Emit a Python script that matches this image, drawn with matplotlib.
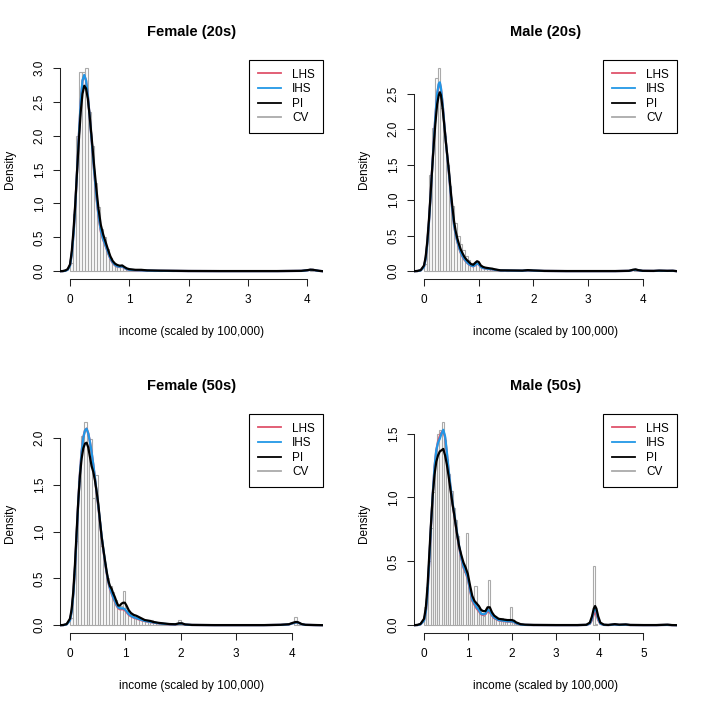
import matplotlib
matplotlib.use("Agg")
import matplotlib.pyplot as plt
from matplotlib.lines import Line2D

plt.rcParams['font.family'] = ['Liberation Sans', 'DejaVu Sans']

# ---------------- data ----------------
titles = ["Female (20s)", "Male (20s)", "Female (50s)", "Male (50s)"]
legend_labels = ["LHS", "IHS", "PI", "CV"]
bin_width = 0.05

# Panel 1: Female (20s)
p1_hist_left = [0.00, 0.05, 0.10, 0.15, 0.20, 0.25, 0.30, 0.35, 0.40, 0.45, 0.50, 0.55, 0.60,
                0.65, 0.70, 0.75, 0.80, 0.85, 0.90, 0.95, 1.00, 1.05, 1.10, 1.15, 1.20, 1.25,
                1.40, 1.50, 1.70, 4.05]
p1_hist_h = [0.12, 0.85, 2.0, 2.95, 2.95, 3.0, 2.35, 1.85, 1.3, 0.95, 0.62, 0.5, 0.33,
             0.2, 0.12, 0.09, 0.07, 0.08, 0.04, 0.03, 0.02, 0.025, 0.01, 0.015, 0.01, 0.01,
             0.005, 0.01, 0.005, 0.03]
p1_x = [-0.17, -0.12, -0.08, -0.04, 0.0, 0.03, 0.06, 0.09, 0.12, 0.15, 0.18, 0.21, 0.24, 0.27,
        0.30, 0.33, 0.36, 0.40, 0.44, 0.48, 0.52, 0.56, 0.60, 0.64, 0.68, 0.72, 0.76, 0.80,
        0.84, 0.88, 0.92, 0.96, 1.0, 1.1, 1.2, 1.3, 1.5, 1.7, 2.0, 2.5, 3.0, 3.5, 3.9, 4.0,
        4.05, 4.1, 4.15, 4.2, 4.26]
p1_pi = [0.0, 0.002, 0.01, 0.03, 0.1, 0.3, 0.62, 1.02, 1.5, 1.95, 2.35, 2.62, 2.74, 2.7,
         2.55, 2.3, 2.02, 1.62, 1.25, 0.92, 0.68, 0.54, 0.43, 0.32, 0.22, 0.15, 0.11, 0.09,
         0.08, 0.085, 0.06, 0.04, 0.03, 0.02, 0.02, 0.012, 0.008, 0.006, 0.003, 0.002, 0.002,
         0.002, 0.005, 0.015, 0.022, 0.02, 0.012, 0.005, 0.0]
p1_ihs = [0.0, 0.001, 0.005, 0.02, 0.08, 0.25, 0.55, 0.98, 1.5, 2.02, 2.5, 2.82, 2.9, 2.82,
          2.6, 2.3, 1.98, 1.55, 1.15, 0.83, 0.6, 0.47, 0.38, 0.28, 0.19, 0.13, 0.09, 0.07,
          0.065, 0.07, 0.05, 0.03, 0.02, 0.015, 0.012, 0.008, 0.005, 0.004, 0.002, 0.001, 0.001,
          0.001, 0.004, 0.012, 0.02, 0.018, 0.01, 0.004, 0.0]
p1_lhs = [0.0, 0.001, 0.006, 0.022, 0.085, 0.26, 0.56, 0.99, 1.5, 2.02, 2.49, 2.81, 2.89, 2.82,
          2.6, 2.3, 1.98, 1.54, 1.13, 0.81, 0.58, 0.46, 0.37, 0.27, 0.18, 0.12, 0.085, 0.065,
          0.06, 0.065, 0.045, 0.028, 0.018, 0.014, 0.011, 0.007, 0.005, 0.004, 0.002, 0.001,
          0.001, 0.001, 0.004, 0.012, 0.02, 0.018, 0.01, 0.004, 0.0]

# Panel 2: Male (20s)
p2_hist_left = [0.00, 0.05, 0.10, 0.15, 0.20, 0.25, 0.30, 0.35, 0.40, 0.45, 0.50, 0.55, 0.60,
                0.65, 0.70, 0.75, 0.80, 0.85, 0.90, 0.95, 1.00, 1.05, 1.10, 1.15, 1.20, 1.25,
                1.30, 1.35, 1.40, 1.50, 1.85, 1.90, 3.85, 4.30, 4.50]
p2_hist_h = [0.1, 0.62, 1.35, 2.02, 2.72, 2.86, 2.3, 1.9, 1.5, 1.2, 0.92, 0.68, 0.5,
             0.38, 0.3, 0.22, 0.16, 0.12, 0.09, 0.12, 0.08, 0.06, 0.05, 0.04, 0.05, 0.03,
             0.02, 0.015, 0.01, 0.01, 0.015, 0.015, 0.03, 0.01, 0.005]
p2_x = [-0.18, -0.12, -0.06, 0.0, 0.03, 0.06, 0.09, 0.12, 0.15, 0.18, 0.21, 0.24, 0.27, 0.29,
        0.31, 0.34, 0.37, 0.40, 0.43, 0.46, 0.49, 0.52, 0.55, 0.58, 0.61, 0.64, 0.67, 0.70,
        0.74, 0.78, 0.82, 0.86, 0.90, 0.94, 0.97, 1.0, 1.04, 1.08, 1.12, 1.16, 1.2, 1.25, 1.3,
        1.4, 1.6, 1.8, 1.9, 2.0, 2.2, 2.6, 3.0, 3.5, 3.75, 3.82, 3.87, 3.92, 4.0, 4.2, 4.3,
        4.45, 4.55, 4.63]
p2_pi = [0.0, 0.003, 0.015, 0.08, 0.2, 0.42, 0.72, 1.08, 1.45, 1.8, 2.1, 2.35, 2.48, 2.52,
         2.48, 2.3, 2.06, 1.82, 1.6, 1.38, 1.12, 0.9, 0.7, 0.56, 0.46, 0.38, 0.31, 0.26,
         0.2, 0.16, 0.13, 0.1, 0.09, 0.12, 0.14, 0.13, 0.08, 0.06, 0.05, 0.045, 0.04, 0.035,
         0.025, 0.012, 0.01, 0.008, 0.015, 0.01, 0.004, 0.002, 0.002, 0.002, 0.005, 0.02,
         0.025, 0.015, 0.005, 0.004, 0.008, 0.005, 0.006, 0.0]
p2_ihs = [0.0, 0.002, 0.01, 0.06, 0.17, 0.38, 0.68, 1.05, 1.45, 1.85, 2.2, 2.5, 2.64, 2.66,
          2.58, 2.36, 2.08, 1.82, 1.58, 1.35, 1.08, 0.85, 0.65, 0.52, 0.42, 0.34, 0.27, 0.22,
          0.17, 0.13, 0.1, 0.08, 0.07, 0.09, 0.11, 0.1, 0.06, 0.045, 0.04, 0.035, 0.03, 0.028,
          0.02, 0.01, 0.008, 0.006, 0.012, 0.008, 0.003, 0.001, 0.001, 0.001, 0.004, 0.016,
          0.02, 0.012, 0.004, 0.003, 0.006, 0.004, 0.005, 0.0]
p2_lhs = [0.0, 0.002, 0.011, 0.062, 0.175, 0.39, 0.69, 1.06, 1.46, 1.85, 2.2, 2.49, 2.63, 2.65,
          2.57, 2.36, 2.08, 1.82, 1.58, 1.34, 1.07, 0.84, 0.64, 0.51, 0.41, 0.33, 0.26, 0.21,
          0.16, 0.125, 0.095, 0.077, 0.067, 0.085, 0.105, 0.095, 0.057, 0.043, 0.038, 0.034,
          0.029, 0.027, 0.019, 0.009, 0.007, 0.005, 0.011, 0.007, 0.003, 0.001, 0.001, 0.001,
          0.004, 0.015, 0.019, 0.011, 0.004, 0.003, 0.006, 0.004, 0.005, 0.0]

# Panel 3: Female (50s)
p3_hist_left = [0.00, 0.05, 0.10, 0.15, 0.20, 0.25, 0.30, 0.35, 0.40, 0.45, 0.50, 0.55, 0.60,
                0.65, 0.70, 0.75, 0.80, 0.85, 0.90, 0.95, 1.00, 1.05, 1.10, 1.15, 1.20, 1.25,
                1.30, 1.35, 1.40, 1.45, 1.50, 1.55, 1.60, 1.65, 1.70, 1.75, 1.80, 1.85, 1.90,
                1.95, 2.00, 3.80, 4.05, 4.10, 4.40]
p3_hist_h = [0.08, 0.55, 0.9, 1.54, 2.02, 2.17, 2.0, 1.99, 1.36, 1.6, 1.1, 0.85, 0.65,
             0.5, 0.42, 0.35, 0.27, 0.2, 0.2, 0.37, 0.18, 0.12, 0.11, 0.09, 0.08, 0.08,
             0.05, 0.05, 0.04, 0.06, 0.03, 0.02, 0.02, 0.015, 0.015, 0.01, 0.01, 0.005, 0.01,
             0.05, 0.01, 0.01, 0.09, 0.02, 0.005]
p3_x = [-0.18, -0.12, -0.06, 0.0, 0.03, 0.06, 0.09, 0.12, 0.15, 0.18, 0.21, 0.24, 0.27, 0.30,
        0.33, 0.36, 0.39, 0.42, 0.45, 0.48, 0.51, 0.54, 0.57, 0.60, 0.63, 0.66, 0.69, 0.72,
        0.75, 0.78, 0.81, 0.84, 0.87, 0.90, 0.93, 0.96, 0.99, 1.02, 1.06, 1.10, 1.15, 1.2,
        1.25, 1.3, 1.35, 1.4, 1.45, 1.5, 1.6, 1.7, 1.8, 1.9, 1.97, 2.02, 2.08, 2.2, 2.6, 3.0,
        3.5, 3.8, 3.95, 4.02, 4.08, 4.12, 4.18, 4.25, 4.4, 4.57]
p3_pi = [0.0, 0.002, 0.012, 0.07, 0.17, 0.36, 0.65, 1.0, 1.33, 1.6, 1.78, 1.89, 1.94, 1.95,
         1.9, 1.8, 1.7, 1.64, 1.55, 1.43, 1.3, 1.12, 0.95, 0.82, 0.7, 0.58, 0.48, 0.42,
         0.39, 0.34, 0.3, 0.25, 0.21, 0.21, 0.23, 0.24, 0.24, 0.21, 0.16, 0.13, 0.11, 0.1,
         0.085, 0.07, 0.055, 0.05, 0.045, 0.035, 0.025, 0.018, 0.012, 0.01, 0.02, 0.02, 0.008,
         0.003, 0.001, 0.001, 0.001, 0.004, 0.01, 0.025, 0.035, 0.03, 0.012, 0.004, 0.002, 0.0]
p3_ihs = [0.0, 0.001, 0.008, 0.05, 0.14, 0.32, 0.6, 0.95, 1.32, 1.62, 1.85, 2.0, 2.08, 2.1,
          2.05, 1.96, 1.85, 1.72, 1.58, 1.43, 1.28, 1.12, 0.96, 0.82, 0.69, 0.57, 0.47, 0.4,
          0.35, 0.3, 0.26, 0.22, 0.19, 0.18, 0.18, 0.18, 0.17, 0.15, 0.12, 0.1, 0.085, 0.075,
          0.065, 0.055, 0.045, 0.04, 0.035, 0.03, 0.02, 0.014, 0.01, 0.008, 0.016, 0.016, 0.006,
          0.002, 0.0005, 0.0005, 0.0005, 0.003, 0.008, 0.02, 0.03, 0.026, 0.01, 0.003, 0.001, 0.0]
p3_lhs = [0.0, 0.001, 0.009, 0.052, 0.145, 0.33, 0.61, 0.96, 1.33, 1.63, 1.86, 2.01, 2.08, 2.1,
          2.05, 1.96, 1.85, 1.72, 1.57, 1.42, 1.27, 1.11, 0.95, 0.81, 0.68, 0.56, 0.46, 0.39,
          0.34, 0.29, 0.25, 0.21, 0.18, 0.17, 0.17, 0.17, 0.16, 0.14, 0.11, 0.095, 0.08, 0.07,
          0.06, 0.05, 0.043, 0.038, 0.033, 0.028, 0.019, 0.013, 0.009, 0.007, 0.015, 0.015,
          0.005, 0.002, 0.0005, 0.0005, 0.0005, 0.003, 0.008, 0.02, 0.03, 0.026, 0.01, 0.003,
          0.001, 0.0]

# Panel 4: Male (50s)
p4_hist_left = [0.00, 0.05, 0.10, 0.15, 0.20, 0.25, 0.30, 0.35, 0.40, 0.45, 0.50, 0.55, 0.60,
                0.65, 0.70, 0.75, 0.80, 0.85, 0.90, 0.95, 1.00, 1.05, 1.10, 1.15, 1.20, 1.25,
                1.30, 1.35, 1.40, 1.45, 1.50, 1.55, 1.60, 1.65, 1.70, 1.75, 1.80, 1.85, 1.90,
                1.95, 2.00, 2.05, 2.10, 2.15, 2.20, 2.35, 2.45, 3.85, 3.90, 4.35, 4.60, 5.55]
p4_hist_h = [0.14, 0.3, 0.5, 0.76, 1.04, 1.37, 1.5, 1.53, 1.59, 1.45, 1.3, 1.18, 1.05,
             0.92, 0.82, 0.7, 0.55, 0.5, 0.42, 0.72, 0.3, 0.22, 0.18, 0.31, 0.15, 0.13,
             0.08, 0.07, 0.1, 0.35, 0.1, 0.08, 0.06, 0.05, 0.05, 0.06, 0.04, 0.03, 0.03,
             0.14, 0.03, 0.02, 0.01, 0.01, 0.005, 0.005, 0.005, 0.46, 0.01, 0.01, 0.01, 0.005]
p4_x = [-0.23, -0.15, -0.08, 0.0, 0.04, 0.08, 0.12, 0.16, 0.2, 0.24, 0.28, 0.32, 0.36, 0.40,
        0.44, 0.48, 0.52, 0.56, 0.60, 0.65, 0.70, 0.75, 0.80, 0.85, 0.90, 0.95, 1.0, 1.05,
        1.1, 1.15, 1.2, 1.25, 1.3, 1.35, 1.4, 1.45, 1.5, 1.55, 1.6, 1.7, 1.8, 1.9, 2.0, 2.05,
        2.1, 2.2, 2.3, 2.5, 3.0, 3.5, 3.7, 3.78, 3.83, 3.87, 3.9, 3.93, 3.97, 4.02, 4.1, 4.2,
        4.35, 4.45, 4.6, 4.7, 5.0, 5.3, 5.55, 5.65, 5.77]
p4_pi = [0.0, 0.002, 0.01, 0.05, 0.13, 0.3, 0.55, 0.8, 1.02, 1.18, 1.28, 1.33, 1.36, 1.37,
         1.38, 1.33, 1.26, 1.17, 1.07, 0.95, 0.84, 0.72, 0.62, 0.55, 0.49, 0.45, 0.4, 0.31,
         0.23, 0.19, 0.17, 0.15, 0.12, 0.11, 0.11, 0.14, 0.14, 0.1, 0.075, 0.05, 0.045, 0.04,
         0.04, 0.035, 0.022, 0.008, 0.004, 0.002, 0.001, 0.001, 0.003, 0.02, 0.07, 0.13, 0.15,
         0.13, 0.07, 0.02, 0.004, 0.002, 0.008, 0.004, 0.006, 0.002, 0.001, 0.001, 0.004,
         0.001, 0.0]
p4_ihs = [0.0, 0.001, 0.006, 0.035, 0.1, 0.25, 0.5, 0.78, 1.03, 1.24, 1.37, 1.43, 1.46, 1.5,
          1.53, 1.48, 1.36, 1.22, 1.1, 0.96, 0.85, 0.73, 0.62, 0.53, 0.46, 0.42, 0.37, 0.28,
          0.2, 0.17, 0.14, 0.12, 0.09, 0.085, 0.09, 0.12, 0.11, 0.08, 0.06, 0.04, 0.035, 0.03,
          0.03, 0.025, 0.015, 0.005, 0.002, 0.001, 0.0005, 0.0005, 0.002, 0.012, 0.05, 0.11,
          0.13, 0.11, 0.05, 0.012, 0.002, 0.001, 0.005, 0.002, 0.004, 0.001, 0.0005, 0.0005,
          0.002, 0.0005, 0.0]
p4_lhs = [0.0, 0.001, 0.006, 0.036, 0.1, 0.25, 0.5, 0.78, 1.03, 1.24, 1.37, 1.44, 1.48, 1.51,
          1.52, 1.47, 1.35, 1.21, 1.09, 0.95, 0.84, 0.72, 0.61, 0.52, 0.45, 0.41, 0.36, 0.27,
          0.19, 0.16, 0.13, 0.11, 0.085, 0.08, 0.085, 0.11, 0.1, 0.075, 0.055, 0.037, 0.032,
          0.028, 0.028, 0.023, 0.014, 0.005, 0.002, 0.001, 0.0005, 0.0005, 0.002, 0.01, 0.04,
          0.085, 0.1, 0.085, 0.04, 0.01, 0.002, 0.001, 0.004, 0.002, 0.003, 0.001, 0.0005,
          0.0005, 0.002, 0.0005, 0.0]

panels = [
    dict(title=titles[0], hl=p1_hist_left, hh=p1_hist_h, x=p1_x, lhs=p1_lhs, ihs=p1_ihs, pi=p1_pi,
         xlim=(-0.169, 4.27), xticks=[0, 1, 2, 3, 4], yticks=[0, 0.5, 1.0, 1.5, 2.0, 2.5, 3.0]),
    dict(title=titles[1], hl=p2_hist_left, hh=p2_hist_h, x=p2_x, lhs=p2_lhs, ihs=p2_ihs, pi=p2_pi,
         xlim=(-0.183, 4.633), xticks=[0, 1, 2, 3, 4], yticks=[0, 0.5, 1.0, 1.5, 2.0, 2.5]),
    dict(title=titles[2], hl=p3_hist_left, hh=p3_hist_h, x=p3_x, lhs=p3_lhs, ihs=p3_ihs, pi=p3_pi,
         xlim=(-0.180, 4.571), xticks=[0, 1, 2, 3, 4], yticks=[0, 0.5, 1.0, 1.5, 2.0]),
    dict(title=titles[3], hl=p4_hist_left, hh=p4_hist_h, x=p4_x, lhs=p4_lhs, ihs=p4_ihs, pi=p4_pi,
         xlim=(-0.228, 5.774), xticks=[0, 1, 2, 3, 4, 5], yticks=[0, 0.5, 1.0, 1.5]),
]

# ---------------- styling ----------------
COL_LHS = "#DF536B"
COL_IHS = "#2297E6"
COL_PI = "#000000"
COL_CV = "#AAAAAA"
AXCOL = "#222222"
W = H = 708.0
LW = 1.6

fig = plt.figure(figsize=(7.08, 7.08), dpi=100)

for i, p in enumerate(panels):
    r, c = divmod(i, 2)
    left = c * 354 + 60
    right = c * 354 + 323.3
    top = r * 354 + 60
    bottom = r * 354 + 279.3
    ax = fig.add_axes([left / W, 1 - bottom / H, (right - left) / W, (bottom - top) / H])

    ax.bar(p["hl"], p["hh"], width=bin_width, align="edge", fill=False,
           edgecolor=COL_CV, linewidth=0.8, zorder=1)
    ax.plot(p["x"], p["lhs"], color=COL_LHS, lw=LW, zorder=2, solid_joinstyle="round")
    ax.plot(p["x"], p["ihs"], color=COL_IHS, lw=LW, zorder=3, solid_joinstyle="round")
    ax.plot(p["x"], p["pi"], color=COL_PI, lw=LW, zorder=4, solid_joinstyle="round")

    ymax = max(p["hh"])
    ax.set_xlim(*p["xlim"])
    ax.set_ylim(-0.04 * ymax, 1.04 * ymax)

    ax.set_xticks(p["xticks"])
    ax.set_xticklabels([str(t) for t in p["xticks"]])
    ax.set_yticks(p["yticks"])
    ax.set_yticklabels([f"{t:.1f}" for t in p["yticks"]])

    for s in ["top", "right"]:
        ax.spines[s].set_visible(False)
    ax.spines["left"].set_bounds(p["yticks"][0], p["yticks"][-1])
    ax.spines["bottom"].set_bounds(p["xticks"][0], p["xticks"][-1])
    for s in ["left", "bottom"]:
        ax.spines[s].set_color(AXCOL)
        ax.spines[s].set_linewidth(0.75)
    ax.tick_params(axis="both", direction="out", length=5.25, width=0.75, color=AXCOL,
                   labelsize=8.5, labelcolor="black")
    ax.tick_params(axis="x", pad=5.5)
    ax.tick_params(axis="y", pad=5, labelrotation=90)
    for lbl in ax.get_yticklabels():
        lbl.set_verticalalignment("center")
    ax.patch.set_visible(False)

    handles = [Line2D([], [], color=COL_LHS, lw=1.3),
               Line2D([], [], color=COL_IHS, lw=1.3),
               Line2D([], [], color=COL_PI, lw=1.3),
               Line2D([], [], color=COL_CV, lw=1.3)]
    leg = ax.legend(handles, legend_labels, loc="upper right", bbox_to_anchor=(1, 1),
                    borderaxespad=0, fontsize=8.5, frameon=True, fancybox=False,
                    framealpha=1, edgecolor="black", handlelength=1.95,
                    handletextpad=0.95, borderpad=0.72, labelspacing=0.22)
    leg.get_frame().set_linewidth(0.8)

    cx = (left + right) / 2
    fig.text(cx / W, 1 - (r * 354 + 35.7) / H, p["title"], ha="center", va="baseline",
             fontsize=10.5, fontweight="bold")
    fig.text(cx / W, 1 - (r * 354 + 335.5) / H, "income (scaled by 100,000)", ha="center",
             va="baseline", fontsize=8.5)
    fig.text((c * 354 + 9.7) / W, 1 - ((top + bottom) / 2) / H, "Density", ha="center",
             va="center", rotation=90, fontsize=8.5)

fig.savefig("out.png", dpi=100, facecolor="white")
